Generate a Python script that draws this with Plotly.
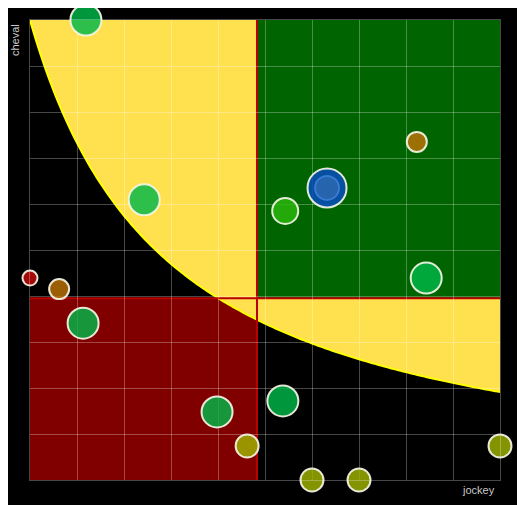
import numpy as np
import plotly.graph_objects as go

# ---- data ----
jockey = [1.19, 2.43, 0.0, 0.62, 1.13, 3.98, 4.62, 5.38, 6.0, 7.0, 10.0, 8.43, 5.43, 6.32, 6.32, 8.23]
cheval = [10.0, 6.09, 4.39, 4.15, 3.41, 1.48, 0.74, 1.72, 0.0, 0.0, 0.74, 4.39, 5.85, 6.35, 6.35, 7.35]
weight = [31, 31, 15, 20, 31, 31, 23, 31, 23, 23, 23, 31, 26, 39, 24, 20]
group = ["green", "green", "red", "brown", "green", "green", "olive", "green", "olive", "olive",
         "olive", "green", "lime", "blue", "blue2", "brown"]

x_split = 4.83
y_split = 3.95
# yellow zone boundary: cheval = k / (jockey + b) + d
zone_k, zone_b, zone_d = 30.36, 2.909, -0.439

# ---- styles ----
fill = {
    "green": "rgba(0,183,73,0.82)",
    "lime": "rgba(43,185,12,0.82)",
    "olive": "rgba(160,180,0,0.82)",
    "brown": "rgba(190,115,5,0.82)",
    "red": "rgba(200,10,10,0.82)",
    "blue": "rgba(6,76,189,0.85)",
    "blue2": "rgba(45,105,175,0.85)",
}
edge = {g: "rgba(245,245,230,0.92)" for g in fill}
edge["blue2"] = "rgba(60,125,215,0.9)"

xs = np.linspace(0, 10, 200)
ys = zone_k / (xs + zone_b) + zone_d
curve = "M " + " L ".join(f"{a:.4f},{b:.4f}" for a, b in zip(xs, ys))
path = curve + " L 10,10 L 0,10 Z"

shapes = [
    dict(type="rect", x0=0, x1=x_split, y0=0, y1=y_split, fillcolor="#800000",
         line=dict(width=0), layer="below"),
    dict(type="path", path=path, fillcolor="#ffe150", line=dict(width=0), layer="below"),
    dict(type="path", path=curve, line=dict(color="#ffff00", width=2), layer="below"),
    dict(type="rect", x0=x_split, x1=10, y0=y_split, y1=10, fillcolor="#006400",
         line=dict(width=0), layer="below"),
    dict(type="line", x0=x_split, x1=x_split, y0=0, y1=10, line=dict(color="#bb0000", width=2), layer="below"),
    dict(type="line", x0=0, x1=10, y0=y_split, y1=y_split, line=dict(color="#bb0000", width=2), layer="below"),
]

fig = go.Figure()
fig.add_trace(go.Scatter(
    x=jockey, y=cheval, mode="markers", cliponaxis=False,
    marker=dict(size=weight, opacity=1, color=[fill[g] for g in group],
                line=dict(color=[edge[g] for g in group], width=2)),
    hoverinfo="skip", showlegend=False,
))

grid = "rgba(255,255,255,0.28)"
fig.update_layout(
    width=517, height=497,
    margin=dict(l=22, r=25, t=12, b=25),
    paper_bgcolor="black", plot_bgcolor="black",
    shapes=shapes,
    xaxis=dict(range=[0, 10], dtick=1, showticklabels=False, gridcolor=grid, gridwidth=1,
               zeroline=False, showline=True, linecolor=grid, linewidth=1, mirror=True, ticks=""),
    yaxis=dict(range=[0, 10], dtick=1, showticklabels=False, gridcolor=grid, gridwidth=1,
               zeroline=False, showline=True, linecolor=grid, linewidth=1, mirror=True, ticks=""),
    annotations=[
        dict(text="cheval", xref="paper", yref="paper", x=0, y=1, xanchor="center", yanchor="top",
             xshift=-15, yshift=-2, textangle=-90, showarrow=False,
             font=dict(family="Liberation Sans, Arial, sans-serif", size=11, color="#c8c8c8")),
        dict(text="jockey", xref="paper", yref="paper", x=1, y=0, xanchor="right", yanchor="middle",
             xshift=-3, yshift=-10, showarrow=False,
             font=dict(family="Liberation Sans, Arial, sans-serif", size=11, color="#c8c8c8")),
    ],
)

fig.write_html("out.html", config={"displayModeBar": False})
